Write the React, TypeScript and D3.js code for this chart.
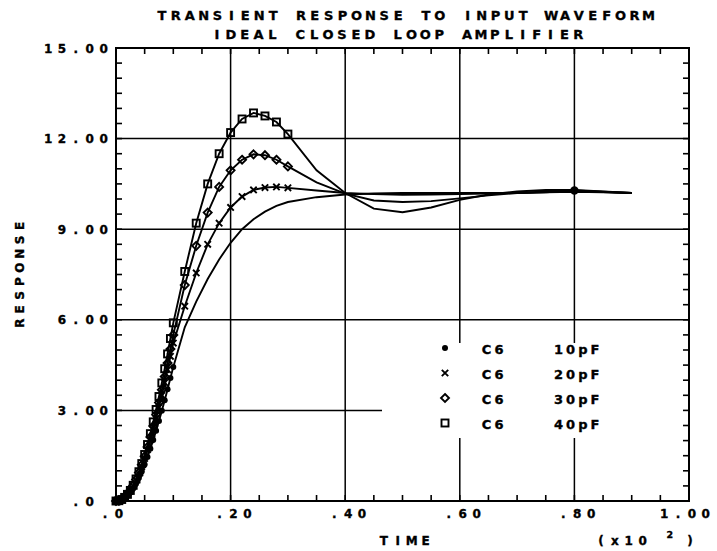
import React from "react";
import * as d3 from "d3";

const W = 717;
const H = 551;

// Sample times (hundreds of time units): dense start, then every .02, then coarse tail
const times = [
  0, 0.005, 0.01, 0.015, 0.02, 0.025, 0.03, 0.035, 0.04, 0.045, 0.05, 0.055, 0.06,
  0.065, 0.07, 0.075, 0.08, 0.085, 0.09, 0.095, 0.1,
  0.12, 0.14, 0.16, 0.18, 0.2, 0.22, 0.24, 0.26, 0.28, 0.3,
  0.35, 0.4, 0.45, 0.5, 0.55, 0.6, 0.65, 0.7, 0.75, 0.8, 0.85, 0.9,
];

const c6_10pF = [
  0, 0.01, 0.04, 0.1, 0.18, 0.29, 0.42, 0.58, 0.77, 0.98, 1.21, 1.46, 1.73, 2.02, 2.33,
  2.65, 2.99, 3.34, 3.7, 4.07, 4.44,
  5.75, 6.6, 7.35, 8.0, 8.55, 9.0, 9.33, 9.58, 9.77, 9.9,
  10.06, 10.15, 10.18, 10.2, 10.2, 10.2, 10.2, 10.2, 10.22, 10.28, 10.24, 10.2,
];
const c6_20pF = [
  0, 0.01, 0.05, 0.12, 0.21, 0.33, 0.49, 0.68, 0.9, 1.14, 1.41, 1.7, 2.02, 2.36, 2.72,
  3.1, 3.5, 3.92, 4.35, 4.79, 5.23,
  6.45, 7.55, 8.5, 9.2, 9.72, 10.08, 10.3, 10.38, 10.4, 10.37,
  10.28, 10.2, 10.16, 10.14, 10.15, 10.16, 10.18, 10.2, 10.22, 10.24, 10.22, 10.2,
];
const c6_30pF = [
  0, 0.01, 0.05, 0.12, 0.22, 0.35, 0.51, 0.71, 0.94, 1.2, 1.48, 1.79, 2.12, 2.48, 2.86,
  3.26, 3.68, 4.12, 4.57, 5.03, 5.5,
  7.15, 8.45, 9.55, 10.4, 10.95, 11.3, 11.48, 11.45, 11.3, 11.08,
  10.55, 10.18, 9.95, 9.9, 9.93, 10.02, 10.12, 10.2, 10.25, 10.27, 10.23, 10.2,
];
const c6_40pF = [
  0, 0.01, 0.05, 0.12, 0.22, 0.35, 0.52, 0.73, 0.97, 1.24, 1.54, 1.87, 2.23, 2.62, 3.03,
  3.46, 3.91, 4.38, 4.87, 5.38, 5.9,
  7.6, 9.2, 10.5, 11.5, 12.2, 12.65, 12.85, 12.75, 12.55, 12.15,
  10.95, 10.2, 9.68, 9.56, 9.72, 9.97, 10.15, 10.25, 10.3, 10.3, 10.25, 10.2,
];

const seriesNames = ["C6", "C6", "C6", "C6"];
const seriesValues = ["10pF", "20pF", "30pF", "40pF"];
const seriesSymbols = ["dot", "cross", "diamond", "square"];
// last time carrying a plot symbol, per trace
const symbolUntil = [0.1, 0.3, 0.3, 0.3];
// extra symbol positions on the 10pF trace
const dotExtraMarks = [0.8];

const xTicks = [0, 0.2, 0.4, 0.6, 0.8, 1.0];
const xTickLabels = [".0", ".20", ".40", ".60", ".80", "1.00"];
const yTicks = [0, 3, 6, 9, 12, 15];
const yTickLabels = [".0", "3.00", "6.00", "9.00", "12.00", "15.00"];

const titleLines = ["TRANSIENT RESPONSE TO INPUT WAVEFORM", "IDEAL CLOSED LOOP AMPLIFIER"];

const FONT = "'DejaVu Sans', sans-serif";

const left = 116;
const right = 689;
const top = 48;
const bottom = 501;

// Fixed-pitch lettering: each character is centred in its own cell.
function PitchText({
  x,
  y,
  text,
  pitch,
  size,
  transform,
}: {
  x: number;
  y: number;
  text: string;
  pitch: number;
  size: number;
  transform?: string;
}) {
  const xs = text.split("").map((_, i) => (x + i * pitch + pitch * 0.28).toFixed(2));
  return (
    <text
      x={xs.join(" ")}
      y={y}
      transform={transform}
      textAnchor="middle"
      style={{
        fontFamily: FONT,
        fontWeight: 700,
        fontSize: size,
        stroke: "#000",
        strokeWidth: 0.35,
        whiteSpace: "pre",
      }}
    >
      {text}
    </text>
  );
}

function Marker({ kind, x, y, big }: { kind: string; x: number; y: number; big?: boolean }) {
  const sw = 1.9;
  if (kind === "dot") {
    return <circle cx={x} cy={y} r={big ? 4.2 : 3} fill="#000" />;
  }
  if (kind === "cross") {
    const s = 3.2;
    return (
      <path
        d={`M${x - s},${y - s}L${x + s},${y + s}M${x - s},${y + s}L${x + s},${y - s}`}
        stroke="#000"
        strokeWidth={sw}
      />
    );
  }
  if (kind === "diamond") {
    const s = 4;
    return (
      <path
        d={`M${x},${y - s}L${x + s},${y}L${x},${y + s}L${x - s},${y}Z`}
        fill="none"
        stroke="#000"
        strokeWidth={sw}
      />
    );
  }
  const s = 3.5;
  return (
    <rect x={x - s} y={y - s} width={2 * s} height={2 * s} fill="none" stroke="#000" strokeWidth={sw} />
  );
}

export default function App() {
  const x = d3.scaleLinear().domain([0, 1]).range([left, right]);
  const y = d3.scaleLinear().domain([0, 15]).range([bottom, top]);

  const allValues = [c6_10pF, c6_20pF, c6_30pF, c6_40pF];
  const line = d3
    .line<[number, number]>()
    .x((d) => x(d[0]))
    .y((d) => y(d[1]))
    .curve(d3.curveLinear);

  const minorX = d3.range(0, 1.0001, 0.05);
  const minorY = d3.range(0, 15.0001, 0.5);

  const P = 13.9; // character pitch of the label lettering
  const LF = 12;
  const yDotX = 72;

  return (
    <svg width={W} height={H} style={{ display: "block", position: "absolute", left: 0, top: 0 }}>
      <rect width={W} height={H} fill="#fff" />

      {/* title */}
      {titleLines.map((t, i) => (
        <PitchText key={t} x={i === 0 ? 158 : 213} y={i === 0 ? 20 : 39} text={t} pitch={13.9} size={13} />
      ))}

      {/* grid */}
      {xTicks.slice(1, -1).map((t) => (
        <line key={"gx" + t} x1={x(t)} x2={x(t)} y1={top} y2={bottom} stroke="#000" strokeWidth={1.5} />
      ))}
      {yTicks.slice(1, -1).map((t) => (
        <line key={"gy" + t} x1={left} x2={right} y1={y(t)} y2={y(t)} stroke="#000" strokeWidth={1.5} />
      ))}

      {/* legend background */}
      <rect x={382} y={343} width={right - 382 - 1} height={95} fill="#fff" />

      {/* frame */}
      <rect x={left} y={top} width={right - left} height={bottom - top} fill="none" stroke="#000" strokeWidth={2} />
      {minorX.map((t) => (
        <g key={"mx" + t}>
          <line x1={x(t)} x2={x(t)} y1={bottom} y2={bottom - 6} stroke="#000" strokeWidth={1.6} />
          <line x1={x(t)} x2={x(t)} y1={top} y2={top + 6} stroke="#000" strokeWidth={1.6} />
        </g>
      ))}
      {minorY.map((t) => (
        <g key={"my" + t}>
          <line x1={left} x2={left + 6} y1={y(t)} y2={y(t)} stroke="#000" strokeWidth={1.6} />
          <line x1={right} x2={right - 6} y1={y(t)} y2={y(t)} stroke="#000" strokeWidth={1.6} />
        </g>
      ))}

      {/* tick labels, aligned on the decimal point */}
      {yTicks.map((t, i) => {
        const lab = yTickLabels[i];
        const di = lab.indexOf(".");
        return <PitchText key={"yl" + t} x={yDotX - di * P} y={y(t) + 4.5} text={lab} pitch={P} size={LF} />;
      })}
      {xTicks.map((t, i) => {
        const lab = xTickLabels[i];
        const di = lab.indexOf(".");
        return <PitchText key={"xl" + t} x={x(t) - (di + 1) * P - 1} y={518} text={lab} pitch={P} size={LF} />;
      })}

      {/* axis titles */}
      <PitchText x={380} y={545} text="TIME" pitch={P} size={LF} />
      <PitchText x={597} y={545} text="(x10" pitch={P} size={LF} />
      <PitchText x={666} y={538} text="2" pitch={P} size={9.5} />
      <PitchText x={686} y={545} text=")" pitch={P} size={LF} />
      <PitchText
        x={0}
        y={0}
        text="RESPONSE"
        pitch={P}
        size={LF}
        transform={`translate(24,${(top + bottom) / 2 + 4 * P - 3}) rotate(-90)`}
      />

      {/* traces */}
      {allValues.map((vals, si) => {
        const pts: [number, number][] = times.map((t, k) => [t, vals[k]]);
        const marks = pts.filter((p) => p[0] <= symbolUntil[si] + 1e-9);
        return (
          <g key={"s" + si}>
            <path d={line(pts) ?? ""} fill="none" stroke="#000" strokeWidth={1.9} />
            {marks.map((p, k) => (
              <Marker key={k} kind={seriesSymbols[si]} x={x(p[0])} y={y(p[1])} />
            ))}
            {seriesSymbols[si] === "dot" &&
              dotExtraMarks.map((t) => {
                const k = times.indexOf(t);
                return <Marker key={"e" + t} kind="dot" x={x(t)} y={y(vals[k])} big />;
              })}
          </g>
        );
      })}

      {/* legend */}
      {seriesSymbols.map((s, i) => {
        const ry = 349 + i * 25;
        return (
          <g key={"lg" + i}>
            <Marker kind={s} x={445} y={ry - 1} />
            <PitchText x={483} y={ry + 5} text={seriesNames[i]} pitch={12.5} size={13} />
            <PitchText x={555} y={ry + 5} text={seriesValues[i]} pitch={12.2} size={13} />
          </g>
        );
      })}
    </svg>
  );
}
